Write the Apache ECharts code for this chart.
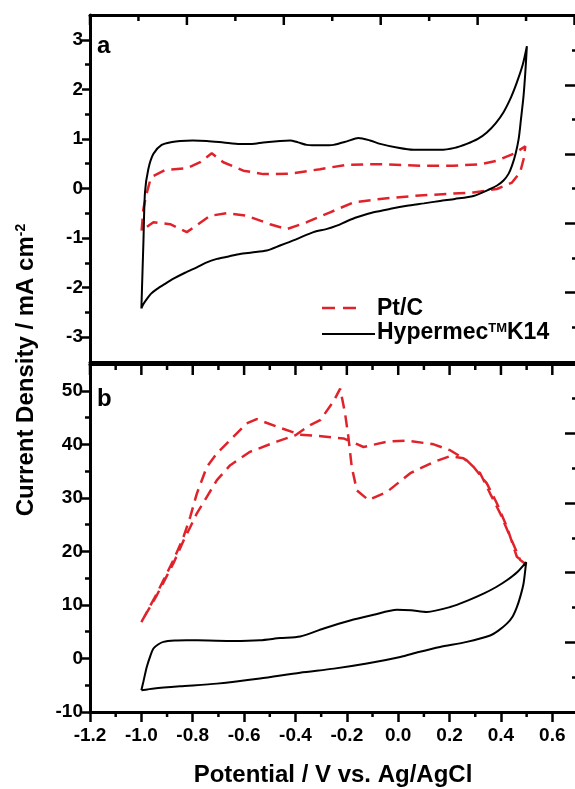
<!DOCTYPE html>
<html>
<head>
<meta charset="utf-8">
<script src="https://cdn.jsdelivr.net/npm/echarts@6/dist/echarts.min.js"></script>
<style>
  html, body { margin: 0; padding: 0; background: #fff; }
  #chart { width: 575px; height: 789px; }
</style>
</head>
<body>
<div id="chart"></div>
<script>
// panel a, Hypermec K14 (black): anodic sweep up, then cathodic sweep back
var aHyperE = [-1.0, -0.992, -0.986, -0.973, -0.953, -0.921, -0.88, -0.849, -0.80, -0.745, -0.68, -0.616, -0.57, -0.525, -0.46, -0.421, -0.39, -0.356, -0.30, -0.252, -0.20, -0.155, -0.11, -0.07, 0.0, 0.059, 0.163, 0.22, 0.267, 0.31, 0.345, 0.38, 0.41, 0.44, 0.462, 0.485, 0.501,
  0.495, 0.488, 0.478, 0.469, 0.457, 0.443, 0.43, 0.41, 0.385, 0.358, 0.293, 0.22, 0.163, 0.10, 0.034, -0.03, -0.096, -0.161, -0.20, -0.239, -0.28, -0.33, -0.40, -0.46, -0.512, -0.57, -0.616, -0.66, -0.706, -0.75, -0.784, -0.83, -0.875, -0.91, -0.94, -0.962, -0.979, -0.992, -1.0];
var aHyperJ = [-2.42, -1.08, -0.08, 0.39, 0.70, 0.88, 0.94, 0.96, 0.97, 0.96, 0.93, 0.90, 0.90, 0.93, 0.96, 0.97, 0.93, 0.88, 0.87, 0.88, 0.95, 1.02, 0.97, 0.90, 0.82, 0.78, 0.78, 0.82, 0.90, 1.00, 1.13, 1.32, 1.54, 1.85, 2.14, 2.50, 2.87,
  2.35, 1.87, 1.40, 1.00, 0.70, 0.46, 0.30, 0.16, 0.06, -0.01, -0.15, -0.21, -0.25, -0.30, -0.35, -0.41, -0.48, -0.58, -0.66, -0.75, -0.82, -0.88, -1.03, -1.15, -1.25, -1.29, -1.32, -1.37, -1.42, -1.50, -1.59, -1.70, -1.82, -1.93, -2.03, -2.12, -2.23, -2.33, -2.42];

// panel a, Pt/C (red dashed)
var aPtE = [-0.999, -0.992, -0.982, -0.966, -0.955, -0.908, -0.823, -0.771, -0.726, -0.681, -0.603, -0.525, -0.421, -0.304, -0.20, -0.07, 0.086, 0.215, 0.319, 0.384, 0.449, 0.495,
  0.488, 0.475, 0.443, 0.384, 0.293, 0.19, 0.059, -0.07, -0.174, -0.265, -0.356, -0.434, -0.499, -0.59, -0.668, -0.732, -0.823, -0.888, -0.953, -0.999];
var aPtJ = [-0.85, -0.41, -0.15, 0.16, 0.25, 0.37, 0.41, 0.53, 0.71, 0.53, 0.36, 0.29, 0.30, 0.39, 0.48, 0.49, 0.46, 0.46, 0.49, 0.56, 0.70, 0.85,
  0.59, 0.33, 0.12, -0.01, -0.08, -0.11, -0.15, -0.21, -0.28, -0.48, -0.68, -0.82, -0.72, -0.55, -0.50, -0.55, -0.88, -0.72, -0.68, -0.85];

// panel b, Hypermec K14 (black)
var bHyperE = [-1.0, -0.992, -0.979, -0.965, -0.953, -0.935, -0.914, -0.87, -0.824, -0.74, -0.642, -0.538, -0.46, -0.382, -0.29, -0.187, -0.10, -0.005, 0.05, 0.112, 0.202, 0.27, 0.332, 0.38, 0.423, 0.465, 0.498,
  0.488, 0.475, 0.462, 0.445, 0.423, 0.39, 0.358, 0.267, 0.163, 0.08, 0.008, -0.122, -0.25, -0.382, -0.538, -0.706, -0.85, -0.95, -1.0];
var bHyperJ = [-5.94, -4.3, -1.59, 0.5, 1.85, 2.6, 3.1, 3.35, 3.4, 3.35, 3.27, 3.4, 3.8, 4.1, 5.6, 7.1, 8.1, 9.1, 9.0, 8.7, 9.6, 10.8, 12.1, 13.3, 14.6, 16.2, 18.0,
  14.0, 11.5, 9.6, 7.8, 6.5, 5.2, 4.3, 3.1, 2.15, 1.2, 0.28, -0.95, -1.9, -2.65, -3.75, -4.7, -5.2, -5.6, -5.94];

// panel b, Pt/C (red dashed)
var bPtE = [-1.0, -0.94, -0.875, -0.836, -0.81, -0.784, -0.745, -0.706, -0.654, -0.59, -0.551, -0.473, -0.382, -0.30, -0.213, -0.135, -0.044, 0.034, 0.138, 0.202, 0.267, 0.319, 0.358, 0.397, 0.436, 0.475, 0.50,
  0.462, 0.423, 0.384, 0.345, 0.293, 0.254, 0.202, 0.138, 0.047, -0.044, -0.116, -0.161, -0.181, -0.194, -0.207, -0.226, -0.252, -0.304, -0.343, -0.40, -0.473, -0.577, -0.654, -0.706, -0.745, -0.784, -0.81, -0.836, -0.875, -0.94, -1.0];
var bPtJ = [6.8, 12.1, 18.4, 22.7, 26.4, 30.8, 35.8, 38.3, 40.8, 43.9, 44.7, 43.3, 41.8, 41.5, 41.1, 39.5, 40.5, 40.7, 40.0, 38.9, 37.0, 34.6, 30.8, 27.1, 22.7, 18.4, 17.5,
  19.0, 24.6, 29.0, 32.7, 35.8, 37.4, 37.8, 36.7, 34.6, 31.1, 29.6, 31.4, 35.8, 41.4, 45.8, 50.4, 48.0, 44.5, 43.6, 41.7, 40.5, 38.6, 36.1, 33.3, 30.2, 27.1, 24.5, 22.0, 17.8, 11.8, 6.8];

// tick values
var xTicks = [-1.2, -1.0, -0.8, -0.6, -0.4, -0.2, 0.0, 0.2, 0.4, 0.6];
var xMinor = [-1.1, -0.9, -0.7, -0.5, -0.3, -0.1, 0.1, 0.3, 0.5];
var aTicks = [-3, -2, -1, 0, 1, 2, 3];
var aMinor = [-2.5, -1.5, -0.5, 0.5, 1.5, 2.5];
var bTicks = [-10, 0, 10, 20, 30, 40, 50];
var bMinor = [-5, 5, 15, 25, 35, 45];
// the frame's top and right edges carry their own, unlabelled tick spacing
var edgeTicks = [0, 1, 2, 3, 4, 5];
var edgeMinor = [0.5, 1.5, 2.5, 3.5, 4.5];

var RED = '#e0232b';
var FF = 'Arial, "Liberation Sans", Helvetica, sans-serif';

function pairs(e, j) {
  return e.map(function (v, i) { return [v, j[i]]; });
}

var frame = { show: true, onZero: false, lineStyle: { color: '#000', width: 3 } };

function tickAxis(o) {
  var base = {
    type: 'value',
    splitLine: { show: false },
    axisLine: { show: false, onZero: false },
    axisLabel: { show: false },
    axisTick: { show: true }
  };
  return Object.assign(base, o);
}

function ticks(values, len, inside) {
  return { show: true, inside: inside, length: len, customValues: values, lineStyle: { color: '#000', width: 2.5 } };
}

var labelStyle = { show: true, color: '#000', fontFamily: FF, fontWeight: 'bold', fontSize: 19 };

var chart = echarts.init(document.getElementById('chart'));

var graphics = [
  { type: 'text', x: 97, y: 46, style: { text: 'a', fill: '#000', font: 'bold 24px ' + FF, textAlign: 'left', textVerticalAlign: 'middle' } },
  { type: 'text', x: 97, y: 399, style: { text: 'b', fill: '#000', font: 'bold 24px ' + FF, textAlign: 'left', textVerticalAlign: 'middle' } },
  // legend
  { type: 'line', shape: { x1: 322, y1: 308, x2: 356, y2: 308 }, style: { stroke: RED, lineWidth: 2.5, lineDash: [13, 8] } },
  { type: 'text', x: 377, y: 309, style: { text: 'Pt/C', fill: '#000', font: 'bold 23px ' + FF, textAlign: 'left', textVerticalAlign: 'middle' } },
  { type: 'line', shape: { x1: 322, y1: 334, x2: 375, y2: 334 }, style: { stroke: '#000', lineWidth: 2 } },
  {
    type: 'text', x: 377, y: 333,
    style: {
      text: '{m|Hypermec}{s|TM}{m|K14}', fill: '#000', textAlign: 'left', textVerticalAlign: 'middle',
      rich: {
        m: { fontFamily: FF, fontWeight: 'bold', fontSize: 23, fill: '#000', color: '#000' },
        s: { fontFamily: FF, fontWeight: 'bold', fontSize: 13, fill: '#000', color: '#000', verticalAlign: 'top' }
      }
    }
  },
  // axis titles
  {
    type: 'text', x: 26, y: 370, rotation: Math.PI / 2,
    style: {
      text: '{m|Current Density / mA cm}{s|-2}', fill: '#000', textAlign: 'center', textVerticalAlign: 'middle',
      rich: {
        m: { fontFamily: FF, fontWeight: 'bold', fontSize: 24, fill: '#000', color: '#000' },
        s: { fontFamily: FF, fontWeight: 'bold', fontSize: 14, fill: '#000', color: '#000', verticalAlign: 'top' }
      }
    }
  },
  { type: 'text', x: 333, y: 775, style: { text: 'Potential / V vs. Ag/AgCl', fill: '#000', font: 'bold 24px ' + FF, textAlign: 'center', textVerticalAlign: 'middle' } }
];

var option = {
  animation: false,
  backgroundColor: '#fff',
  grid: [
    { left: 90, top: 15, width: 488, height: 347, containLabel: false, outerBoundsMode: 'none' },
    { left: 90, top: 364, width: 488, height: 348, containLabel: false, outerBoundsMode: 'none' }
  ],
  xAxis: [
    // 0: panel a data axis (bottom border)
    tickAxis({ gridIndex: 0, position: 'bottom', min: -1.2, max: 0.7, axisLine: frame, axisTick: { show: false } }),
    // 1: panel a top border, scaled for its own tick spacing
    tickAxis({ gridIndex: 0, position: 'top', min: 0, max: 5.036, axisLine: frame, axisTick: { show: false } }),
    // 2: panel b data axis with labels
    tickAxis({
      gridIndex: 1, position: 'bottom', min: -1.2, max: 0.7, axisLine: frame,
      axisTick: ticks(xTicks, 10, false),
      axisLabel: Object.assign({}, labelStyle, {
        margin: 14, customValues: xTicks,
        formatter: function (v) { return v.toFixed(1); }
      })
    }),
    // 3: panel b top border
    tickAxis({ gridIndex: 1, position: 'top', min: -1.2, max: 0.7, axisLine: frame, axisTick: { show: false } })
  ],
  yAxis: [
    // 0-1: panel a left
    tickAxis({
      gridIndex: 0, position: 'left', min: -3.5, max: 3.5, axisLine: frame,
      axisTick: ticks(aTicks, 8, false),
      axisLabel: Object.assign({}, labelStyle, { margin: 7, customValues: aTicks })
    }),
    tickAxis({ gridIndex: 0, position: 'left', min: -3.5, max: 3.5, axisTick: ticks(aMinor, 5, false) }),
    // 2-3: panel a right
    tickAxis({ gridIndex: 0, position: 'right', min: 0, max: 5.007, axisLine: frame, axisTick: ticks(edgeTicks, 13, true) }),
    tickAxis({ gridIndex: 0, position: 'right', min: 0, max: 5.007, axisTick: ticks(edgeMinor, 6, true) }),
    // 4-5: panel b left
    tickAxis({
      gridIndex: 1, position: 'left', min: -10, max: 55, axisLine: frame,
      axisTick: ticks(bTicks, 8, false),
      axisLabel: Object.assign({}, labelStyle, { margin: 7, customValues: bTicks })
    }),
    tickAxis({ gridIndex: 1, position: 'left', min: -10, max: 55, axisTick: ticks(bMinor, 5, false) }),
    // 6-7: panel b right
    tickAxis({ gridIndex: 1, position: 'right', min: 0, max: 4.993, axisLine: frame, axisTick: ticks(edgeTicks, 13, true) }),
    tickAxis({ gridIndex: 1, position: 'right', min: 0, max: 4.993, axisTick: ticks(edgeMinor, 6, true) })
  ],
  series: [
    {
      name: 'Pt/C', type: 'line', xAxisIndex: 0, yAxisIndex: 0,
      data: pairs(aPtE, aPtJ), symbol: 'none',
      lineStyle: { color: RED, width: 2.5, type: [12, 7] }
    },
    {
      name: 'Hypermec K14', type: 'line', xAxisIndex: 0, yAxisIndex: 0,
      data: pairs(aHyperE, aHyperJ), symbol: 'none', smooth: 0.25,
      lineStyle: { color: '#000', width: 2 }
    },
    {
      name: 'Pt/C', type: 'line', xAxisIndex: 2, yAxisIndex: 4,
      data: pairs(bPtE, bPtJ), symbol: 'none',
      lineStyle: { color: RED, width: 2.5, type: [12, 7] }
    },
    {
      name: 'Hypermec K14', type: 'line', xAxisIndex: 2, yAxisIndex: 4,
      data: pairs(bHyperE, bHyperJ), symbol: 'none', smooth: 0.25,
      lineStyle: { color: '#000', width: 2 }
    }
  ],
  graphic: graphics
};

chart.setOption(option);

// unlabelled x ticks: placed through the axis scales once the chart is laid out
function addTicks(xIdx, yIdx, values, yEdge, len) {
  values.forEach(function (v) {
    var p = null;
    try {
      p = chart.convertToPixel({ xAxisIndex: xIdx, yAxisIndex: yIdx }, [v, yEdge]);
    } catch (e) {
      p = null;
    }
    if (!p || !isFinite(p[0]) || !isFinite(p[1])) return;
    graphics.push({
      type: 'line', z: 10,
      shape: { x1: p[0], y1: p[1], x2: p[0], y2: p[1] + len },
      style: { stroke: '#000', lineWidth: 2.5 }
    });
  });
}

addTicks(1, 0, edgeTicks, 3.5, 10);  // top edge of panel a
addTicks(1, 0, edgeMinor, 3.5, 6);
addTicks(2, 4, xTicks, 55, 11);      // top edge of panel b
addTicks(2, 4, xMinor, 55, 6);
addTicks(2, 4, xMinor, -10, 5);      // minor ticks under panel b

option.graphic = graphics;
chart.setOption(option, true);
</script>
</body>
</html>
